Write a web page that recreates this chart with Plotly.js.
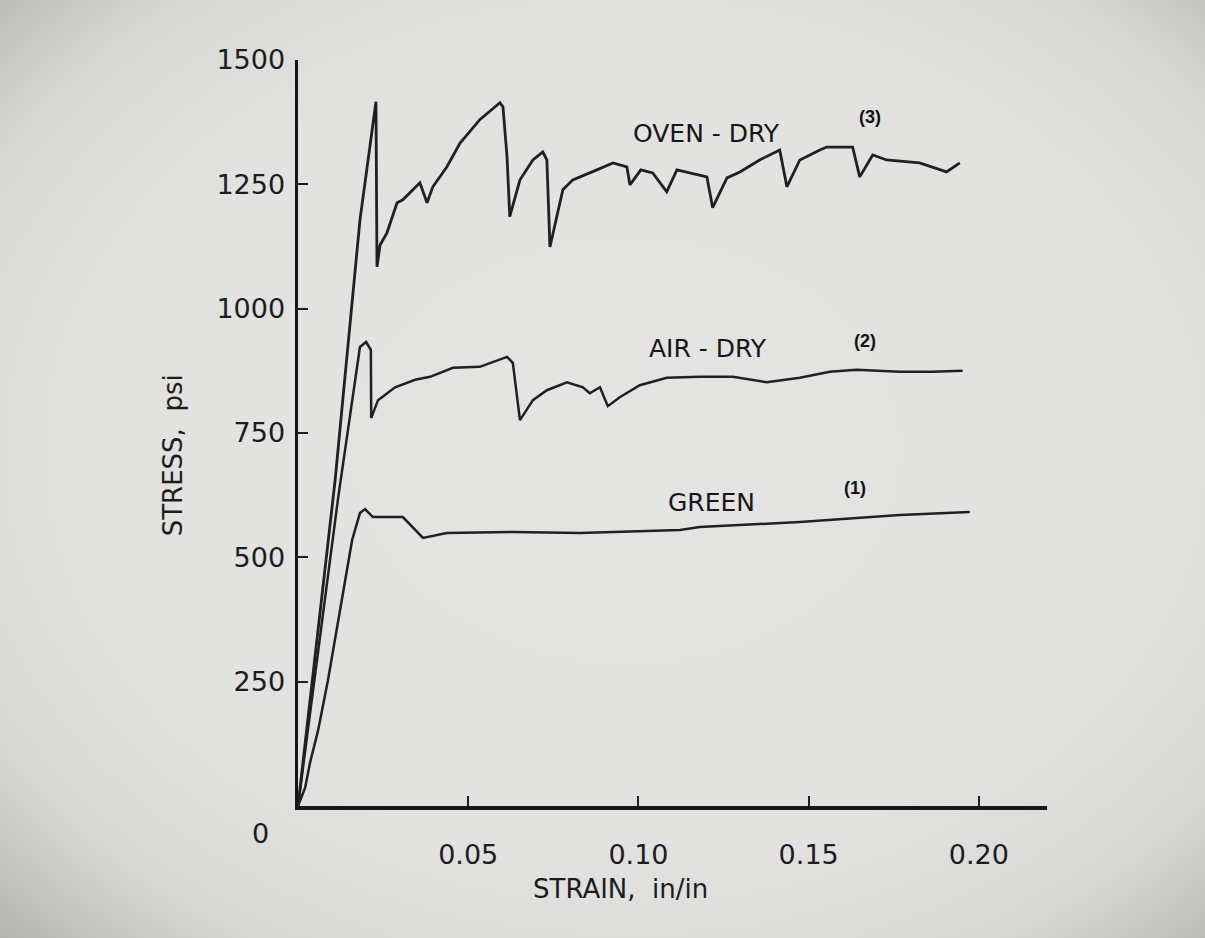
<!DOCTYPE html>
<html>
<head>
<meta charset="utf-8">
<script src="https://cdn.plot.ly/plotly-3.0.1.min.js"></script>
<style>
  html, body { margin: 0; padding: 0; }
  body {
    width: 1205px; height: 938px; overflow: hidden;
    background: radial-gradient(ellipse farthest-corner at 52% 48%, #e4e4e2 0%, #e1e1df 60%, #d8d8d6 82%, #b4b4b2 100%);
  }
  #chart { width: 1205px; height: 938px; }
</style>
</head>
<body>
<div id="chart"></div>
<script>
// ---- Data (strain in in/in, stress in psi) ----
const ovenStrain = [0, 0.0109, 0.0182, 0.0229, 0.0232, 0.0241, 0.0261, 0.0291, 0.0308, 0.0358, 0.0379, 0.0396,
  0.0437, 0.0476, 0.0534, 0.0593, 0.0602, 0.0614, 0.0622, 0.0652, 0.0690, 0.0719, 0.0731, 0.0740, 0.0778,
  0.0807, 0.0878, 0.0925, 0.0966, 0.0975, 0.1007, 0.1042, 0.1083, 0.1113, 0.1201, 0.1218, 0.1260, 0.1298,
  0.1356, 0.1415, 0.1436, 0.1474, 0.1533, 0.1553, 0.1629, 0.1650, 0.1688, 0.1729, 0.1826, 0.1905, 0.1944];
const ovenStress = [0, 655, 1178, 1416, 1084, 1128, 1152, 1213, 1219, 1253, 1213, 1245,
  1285, 1333, 1380, 1414, 1406, 1305, 1185, 1259, 1299, 1315, 1299, 1124, 1239,
  1259, 1279, 1293, 1285, 1249, 1279, 1273, 1235, 1279, 1265, 1203, 1263, 1275,
  1299, 1319, 1245, 1299, 1319, 1325, 1325, 1265, 1309, 1299, 1293, 1275, 1293];

const airStrain = [0, 0.0117, 0.0182, 0.0200, 0.0214, 0.0215, 0.0235, 0.0285, 0.0344, 0.0388, 0.0455, 0.0534,
  0.0614, 0.0631, 0.0652, 0.0690, 0.0731, 0.0790, 0.0837, 0.0857, 0.0887, 0.0910, 0.0945, 0.1004, 0.1083,
  0.1180, 0.1277, 0.1377, 0.1474, 0.1562, 0.1641, 0.1767, 0.1864, 0.1952];
const airStress = [0, 615, 923, 933, 917, 780, 816, 842, 857, 863, 881, 883,
  903, 891, 776, 816, 836, 852, 842, 830, 842, 804, 822, 846, 861,
  863, 863, 852, 861, 873, 877, 873, 873, 875];

const greenStrain = [0, 0.0021, 0.0035, 0.0059, 0.0088, 0.0129, 0.0159, 0.0182, 0.0197, 0.0220, 0.0308, 0.0367,
  0.0437, 0.0631, 0.0828, 0.1122, 0.1180, 0.1474, 0.1767, 0.1973];
const greenStress = [0, 37, 86, 152, 253, 420, 535, 589, 597, 581, 581, 539,
  549, 551, 549, 555, 561, 571, 585, 591];

const yTickVals = [250, 500, 750, 1000, 1250, 1500];
const yTickText = ['250', '500', '750', '1000', '1250', '1500'];
const xTickVals = [0.05, 0.10, 0.15, 0.20];
const xTickText = ['0.05', '0.10', '0.15', '0.20'];

const curveNames = ['OVEN - DRY', 'AIR - DRY', 'GREEN'];
const curveNums = ['(3)', '(2)', '(1)'];

// ---- Styling ----
const ink = '#202020';
const letterFont = 'DejaVu Sans, sans-serif';

const traces = [
  { x: ovenStrain, y: ovenStress, name: curveNames[0], mode: 'lines', line: { color: ink, width: 2.8 } },
  { x: airStrain, y: airStress, name: curveNames[1], mode: 'lines', line: { color: ink, width: 2.5 } },
  { x: greenStrain, y: greenStress, name: curveNames[2], mode: 'lines', line: { color: ink, width: 2.5 } }
];

const labelPos = [
  { x: 0.1201, y: 1352, nx: 0.168, ny: 1385 },
  { x: 0.1204, y: 920, nx: 0.1665, ny: 935 },
  { x: 0.1215, y: 611, nx: 0.1635, ny: 640 }
];

const annotations = [];
curveNames.forEach((n, i) => {
  annotations.push({ x: labelPos[i].x, y: labelPos[i].y, xref: 'x', yref: 'y', text: n, showarrow: false,
    font: { family: letterFont, size: 25, color: '#161616' } });
  annotations.push({ x: labelPos[i].nx, y: labelPos[i].ny, xref: 'x', yref: 'y', text: '<b>' + curveNums[i] + '</b>', showarrow: false,
    font: { family: 'Liberation Sans, Arial, sans-serif', size: 18, color: '#111111' } });
});
// origin label
annotations.push({ x: 0, y: 0, xref: 'x', yref: 'y', text: '0', showarrow: false,
  xanchor: 'center', yanchor: 'middle', xshift: -38, yshift: -27,
  font: { family: letterFont, size: 27, color: '#1c1c1c' } });
// axis titles
annotations.push({ x: 0.43, y: -0.111, xref: 'paper', yref: 'paper', text: 'STRAIN,  in/in', showarrow: false,
  xanchor: 'center', yanchor: 'middle', font: { family: letterFont, size: 26, color: '#1c1c1c' } });
annotations.push({ x: -0.167, y: 0.47, xref: 'paper', yref: 'paper', text: 'STRESS,  psi', showarrow: false, textangle: -90,
  xanchor: 'center', yanchor: 'middle', font: { family: letterFont, size: 26, color: '#1c1c1c' } });

const layout = {
  width: 1205, height: 938,
  margin: { l: 298, r: 158, t: 60, b: 132 },
  paper_bgcolor: 'rgba(0,0,0,0)',
  plot_bgcolor: 'rgba(0,0,0,0)',
  showlegend: false,
  xaxis: {
    range: [0, 0.22], tickvals: xTickVals, ticktext: xTickText,
    ticks: 'inside', ticklen: 10, tickwidth: 2, tickcolor: ink,
    showline: true, linecolor: '#151515', linewidth: 3.5,
    showgrid: false, zeroline: false, ticklabelstandoff: 22,
    tickfont: { family: letterFont, size: 27, color: '#1c1c1c' }
  },
  yaxis: {
    range: [0, 1500], tickvals: yTickVals, ticktext: yTickText,
    ticks: 'inside', ticklen: 10, tickwidth: 2, tickcolor: ink,
    showline: true, linecolor: '#151515', linewidth: 3.5,
    showgrid: false, zeroline: false, ticklabelstandoff: 4,
    tickfont: { family: letterFont, size: 27, color: '#1c1c1c' }
  },
  annotations: annotations
};

Plotly.newPlot('chart', traces, layout, { displayModeBar: false, staticPlot: true });
</script>
</body>
</html>
